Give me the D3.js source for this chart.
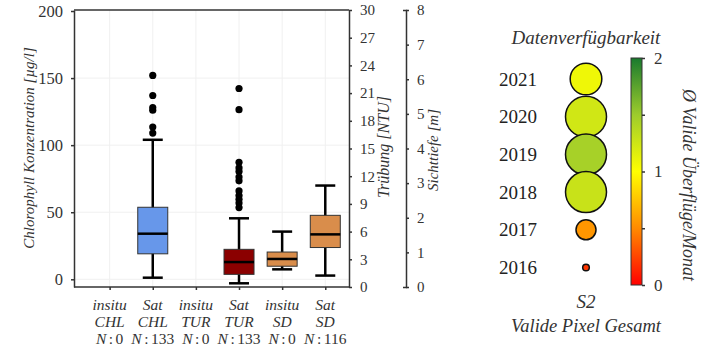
<!DOCTYPE html>
<html>
<head>
<meta charset="utf-8">
<script src="https://cdn.jsdelivr.net/npm/d3@7"></script>
<style>
  body { margin: 0; background: #fff; }
</style>
</head>
<body>
<svg id="chart" width="704" height="352" font-family="Liberation Serif"></svg>
<script>
// categories (x-as van de boxplot)
var catTop  = ["insitu", "Sat", "insitu", "Sat", "insitu", "Sat"];
var catVar  = ["CHL", "CHL", "TUR", "TUR", "SD", "SD"];
var catN    = [0, 133, 0, 133, 0, 116];
var catAxis = ["chl", "chl", "tur", "tur", "sd", "sd"];

// box statistieken, elk in de eenheid van zijn eigen as
var boxLow  = [null, 1.2,  null, 0.4,  0.51, 0.33];
var boxQ1   = [null, 19.0, null, 1.37, 0.60, 1.14];
var boxMed  = [null, 34.0, null, 2.70, 0.81, 1.52];
var boxQ3   = [null, 53.7, null, 4.08, 1.01, 2.07];
var boxHigh = [null, 104,  null, 7.44, 1.60, 2.93];
var outliers = [
  [],
  [152, 137, 128, 126, 113.5, 109],
  [],
  [21.5, 19.2, 13.5, 12.9, 12.5, 11.9, 11.5, 10.4, 9.9, 9.5, 9.1, 8.6],
  [],
  []
];
var boxColors = [null, "#6797ea", null, "#8b0000", "#d98d4b", "#d98d4b"];

// tick labels
var chlTicks = [0, 50, 100, 150, 200];
var turTicks = [0, 3, 6, 9, 12, 15, 18, 21, 24, 27, 30];
var sdTicks  = [0, 1, 2, 3, 4, 5, 6, 7, 8];
var cbTicks  = [0, 0.5, 1, 1.5, 2];

// datenverfuegbarkeit
var years       = [2021, 2020, 2019, 2018, 2017, 2016];
var overflights = [1.08, 1.24, 1.45, 1.28, 0.55, 0.2];   // kleur
var validPixels = [250, 420, 420, 420, 100, 11];          // grootte (relatief)

var cmapVals   = [0, 0.5, 1, 1.5, 2];
var cmapColors = ["#ff0000", "#ff8a00", "#ffff00", "#9dcc2c", "#197a2e"];

var FONT = "Liberation Serif";

var svg = d3.select("#chart");
var pL = 74, pR = 349, pT = 10, pB = 287;   // plotkader

var x = d3.scaleLinear().domain([0.174, 6.55]).range([pL, pR]);
var yChl = d3.scaleLinear().domain([-5.74, 200.75]).range([pB, pT]);
var yTur = d3.scaleLinear().domain([0, 30]).range([pB, pT]);
var ySd  = d3.scaleLinear().domain([0, 8]).range([pB, pT]);
var yscales = { chl: yChl, tur: yTur, sd: ySd };

function label(txt, xx, yy, size, rot, anchor) {
  var t = svg.append("text").attr("font-family", FONT).attr("font-style", "italic")
    .attr("font-size", size).attr("fill", "#333").attr("text-anchor", anchor || "middle")
    .attr("transform", "translate(" + xx + "," + yy + ")" + (rot ? " rotate(" + rot + ")" : ""))
    .text(txt);
  return t;
}

// grid
var grid = svg.append("g").attr("stroke", "#f0f0f0").attr("stroke-width", 1);
catTop.forEach(function (d, i) {
  grid.append("line").attr("x1", x(i + 1)).attr("x2", x(i + 1)).attr("y1", pT).attr("y2", pB);
});
chlTicks.slice(0, 4).forEach(function (v) {
  grid.append("line").attr("x1", pL).attr("x2", pR).attr("y1", yChl(v)).attr("y2", yChl(v));
});

// frame top/bottom
svg.append("line").attr("x1", pL).attr("x2", pR).attr("y1", pT).attr("y2", pT)
  .attr("stroke", "#333").attr("stroke-width", 1.5);
svg.append("line").attr("x1", pL).attr("x2", pR).attr("y1", pB).attr("y2", pB)
  .attr("stroke", "#333").attr("stroke-width", 1.5);

// boxes
var boxW = 30, capW = 20;
catTop.forEach(function (d, i) {
  if (boxQ1[i] == null) return;
  var y = yscales[catAxis[i]];
  var cx = x(i + 1);
  var g = svg.append("g");
  g.append("line").attr("x1", cx).attr("x2", cx).attr("y1", y(boxLow[i])).attr("y2", y(boxHigh[i]))
    .attr("stroke", "#000").attr("stroke-width", 2.5);
  [boxLow[i], boxHigh[i]].forEach(function (v) {
    g.append("line").attr("x1", cx - capW / 2).attr("x2", cx + capW / 2).attr("y1", y(v)).attr("y2", y(v))
      .attr("stroke", "#000").attr("stroke-width", 2.5);
  });
  g.append("rect").attr("x", cx - boxW / 2).attr("width", boxW)
    .attr("y", y(boxQ3[i])).attr("height", y(boxQ1[i]) - y(boxQ3[i]))
    .attr("fill", boxColors[i]).attr("stroke", "#333").attr("stroke-width", 1);
  g.append("line").attr("x1", cx - boxW / 2).attr("x2", cx + boxW / 2).attr("y1", y(boxMed[i])).attr("y2", y(boxMed[i]))
    .attr("stroke", "#000").attr("stroke-width", 2.5);
  g.selectAll("circle").data(outliers[i]).enter().append("circle")
    .attr("cx", cx).attr("cy", function (v) { return y(v); }).attr("r", 3.6).attr("fill", "#000");
});

// axes
function styleAxis(g) {
  g.attr("font-family", FONT);
  g.selectAll("path, line").attr("stroke", "#333").attr("stroke-width", 1.5);
  g.selectAll("text").attr("font-family", FONT).attr("font-size", 15).attr("fill", "#333");
}
svg.append("g").attr("transform", "translate(" + pL + ",0)")
  .call(d3.axisLeft(yChl).tickValues(chlTicks).tickSize(3).tickSizeOuter(0).tickPadding(8))
  .call(styleAxis).selectAll("text").attr("font-size", 16.5);
svg.append("g").attr("transform", "translate(" + pR + ",0)")
  .call(d3.axisRight(yTur).tickValues(turTicks).tickSize(3).tickSizeOuter(0).tickPadding(8))
  .call(styleAxis);
svg.append("g").attr("transform", "translate(406,0)")
  .call(d3.axisRight(ySd).tickValues(sdTicks).tickSize(3).tickSizeOuter(-3).tickPadding(8))
  .call(styleAxis);
var xa = svg.append("g").attr("transform", "translate(0," + pB + ")")
  .call(d3.axisBottom(x).tickValues(d3.range(1, 7)).tickSize(3).tickSizeOuter(0).tickFormat(""))
  .call(styleAxis);
xa.select(".domain").remove();

// x labels
var xl = svg.append("g").attr("font-family", FONT).attr("font-size", 15.5).attr("fill", "#333").attr("text-anchor", "middle");
catTop.forEach(function (d, i) {
  var cx = x(i + 1);
  xl.append("text").attr("font-style", "italic").attr("x", cx).attr("y", 310).text(catTop[i]);
  xl.append("text").attr("font-style", "italic").attr("x", cx).attr("y", 327).text(catVar[i]);
  var t = xl.append("text").attr("x", cx).attr("y", 344);
  t.append("tspan").attr("font-style", "italic").text("N");
  t.append("tspan").attr("dx", 2.5).text(":");
  t.append("tspan").attr("dx", 2.5).text(catN[i]);
});

// axis titles
label("Chlorophyll Konzentration [µg/l]", 34, 148, 15, -90);
label("Trübung [NTU]", 389, 147, 16, -90);
label("Sichttiefe [m]", 438, 150, 15, -90);

// ---- datenverfuegbarkeit ----
var cmap = d3.scaleLinear().domain(cmapVals).range(cmapColors);
var yYear = d3.scalePoint().domain(years).range([79, 267.5]);
var rSize = d3.scaleSqrt().domain([0, 420]).range([0, 20.5]);
var bubX = 586;

label("Datenverfügbarkeit", bubX, 44, 19, 0);

svg.append("g").attr("font-family", FONT).selectAll("text").data(years).enter().append("text")
  .attr("x", 537).attr("y", function (d) { return yYear(d); }).attr("dy", "0.35em")
  .attr("text-anchor", "end").attr("font-size", 19).attr("fill", "#222").text(function (d) { return d; });

svg.append("g").selectAll("circle").data(years).enter().append("circle")
  .attr("cx", bubX).attr("cy", function (d) { return yYear(d); })
  .attr("r", function (d, i) { return rSize(validPixels[i]); })
  .attr("fill", function (d, i) { return cmap(overflights[i]); })
  .attr("stroke", "#111").attr("stroke-width", 1.5);

label("S2", bubX, 308, 19, 0);
label("Valide Pixel Gesamt", bubX, 332, 18.5, 0);

// colorbar
var cbY = d3.scaleLinear().domain([0, 2]).range([285, 58]);
var cbX = 631, cbW = 11;
var grad = svg.append("defs").append("linearGradient").attr("id", "cbgrad")
  .attr("x1", 0).attr("y1", 1).attr("x2", 0).attr("y2", 0);
cmapVals.forEach(function (v, i) {
  grad.append("stop").attr("offset", v / 2).attr("stop-color", cmapColors[i]);
});
svg.append("rect").attr("x", cbX).attr("y", cbY(2)).attr("width", cbW).attr("height", cbY(0) - cbY(2))
  .attr("fill", "url(#cbgrad)").attr("stroke", "#333").attr("stroke-width", 1);
svg.append("g").attr("transform", "translate(" + (cbX + cbW) + ",0)")
  .call(d3.axisRight(cbY).tickValues(cbTicks).tickSize(3).tickSizeOuter(0).tickPadding(9)
    .tickFormat(function (d) { return Number.isInteger(d) ? d : ""; }))
  .call(styleAxis).call(function (g) { g.select(".domain").remove(); g.selectAll("text").attr("font-size", 17); });

label("Ø Valide Überflüge/Monat", 683, 185, 18, 90);
</script>
</body>
</html>
